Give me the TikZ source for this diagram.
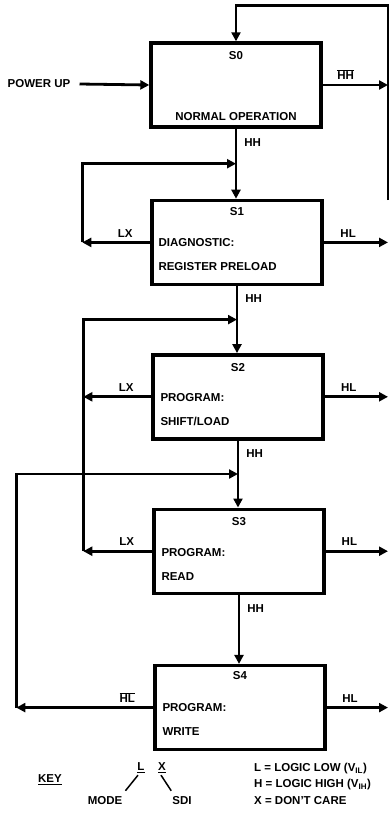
\documentclass[tikz,border=0pt]{standalone}
\usepackage{fontspec}
\setmainfont{Liberation Sans}
\usetikzlibrary{positioning,arrows.meta,calc}
\tikzset{
  state/.style={draw, line width=3.4pt, minimum width=170pt, minimum height=84pt, inner sep=0pt},
  conn/.style={line width=2.8pt, -{Triangle[length=9pt,width=9pt]}},
  keyline/.style={line width=1.5pt},
  txt/.style={font=\bfseries\fontsize{11.5}{13}\selectfont, inner sep=1pt},
}
\begin{document}
\begin{tikzpicture}[x=1pt,y=-1pt, every node/.style={txt}]
  \useasboundingbox (0,0) rectangle (389,828);
  \node[state] (s0) at (236,85) {};
  \node[state, below=70pt of s0, xshift=1pt] (s1) {};
  \node[state, below=67pt of s1, xshift=1pt] (s2) {};
  \node[state, below=67pt of s2, xshift=1pt] (s3) {};
  \node[state, below=69pt of s3, xshift=1pt] (s4) {};
  \node (s0n) at ([yshift=-14pt]s0.north) {S0};
  \node (s0a) at ([yshift=12pt]s0.south) {NORMAL OPERATION};
  \node (s1n) at ([yshift=-13pt]s1.north) {S1};
  \node[anchor=west] (s1a) at ([xshift=7pt]s1.west) {DIAGNOSTIC:};
  \node[anchor=west] (s1b) at ([shift={(7pt,-24pt)}]s1.west) {REGISTER PRELOAD};
  \node (s2n) at ([yshift=-14pt]s2.north) {S2};
  \node[anchor=west] (s2a) at ([shift={(8pt,-1pt)}]s2.west) {PROGRAM:};
  \node[anchor=west] (s2b) at ([shift={(8pt,-25pt)}]s2.west) {SHIFT/LOAD};
  \node (s3n) at ([yshift=-14pt]s3.north) {S3};
  \node[anchor=west] (s3a) at ([shift={(8pt,-1pt)}]s3.west) {PROGRAM:};
  \node[anchor=west] (s3b) at ([shift={(8pt,-25pt)}]s3.west) {READ};
  \node (s4n) at ([yshift=-12pt]s4.north) {S4};
  \node[anchor=west] (s4a) at ([xshift=8pt]s4.west) {PROGRAM:};
  \node[anchor=west] (s4b) at ([yshift=-24pt, xshift=8pt]s4.west) {WRITE};
  \node (pu) at (39,84) {POWER UP};
  \coordinate (rx) at (388,0);
  \coordinate (rb) at (388,200);
  \coordinate (tp) at ([yshift=36pt]s0.north);
  \coordinate (j1) at ($(s0.south)!0.5!(s0.south |- s1.north)$);
  \coordinate (j2) at ($(s1.south)!0.5!(s1.south |- s2.north)$);
  \coordinate (j3) at ($(s2.south)!0.5!(s2.south |- s3.north)$);
  \coordinate (l1) at ([xshift=-68pt]s1.west);
  \coordinate (l3) at ([xshift=-69pt]s3.west);
  \coordinate (l4) at ([xshift=-137pt]s4.west);
  \draw[conn] ([xshift=8pt]pu.east) -- (s0.west);
  \draw[conn] (rb) |- (tp) -- (s0.north);
  \draw[conn] (s0.east) -- node[above=3pt, pos=0.35] (hhbar) {$\overline{\mbox{HH}}$} (s0.east -| rx);
  \draw[conn] (s0.south) -- node[right=6pt, pos=0.2] (hh0) {HH} (s0.south |- s1.north);
  \draw[conn] (s1.south) -- node[right=6pt, pos=0.18] (hh1) {HH} (s1.south |- s2.north);
  \draw[conn] (s2.south) -- node[right=6pt, pos=0.2] (hh2) {HH} (s2.south |- s3.north);
  \draw[conn] (s3.south) -- node[right=6pt, pos=0.2] (hh3) {HH} (s3.south |- s4.north);
  \draw[conn] (s1.west) -- node[above=3pt, pos=0.37] (lx1) {LX} (l1);
  \draw[conn] (l1) |- (j1);
  \draw[conn] (s2.west) -- node[above=3pt, pos=0.37] (lx2) {LX} (s2.west -| l3);
  \draw[conn] (s3.west) -- node[above=3pt, pos=0.37] (lx3) {LX} (l3);
  \draw[conn] (l3) |- (j2);
  \draw[conn] (s4.west) -- node[above=3pt, pos=0.19] (hlbar) {$\overline{\mbox{HL}}$} (l4);
  \draw[conn] (l4) |- (j3);
  \draw[conn] (s1.east) -- node[above=3pt, pos=0.38] (hl1) {HL} (s1.east -| rx);
  \draw[conn] (s2.east) -- node[above=3pt, pos=0.38] (hl2) {HL} (s2.east -| rx);
  \draw[conn] (s3.east) -- node[above=3pt, pos=0.38] (hl3) {HL} (s3.east -| rx);
  \draw[conn] (s4.east) -- node[above=3pt, pos=0.38] (hl4) {HL} (s4.east -| rx);
  \node (key) at (50,780) {\underline{KEY}};
  \node (kl) at (141,768) {\underline{L}};
  \node (kx) at (162,768) {\underline{X}};
  \node (mode) at (105,801) {MODE};
  \node (sdi) at (182,801) {SDI};
  \draw[keyline] ([shift={(-3pt,-1pt)}]kl.south) -- ([shift={(2pt,5pt)}]mode.north east);
  \draw[keyline] ([shift={(-1pt,-1pt)}]kx.south) -- ([shift={(0pt,5pt)}]sdi.north west);
  \node[anchor=west] (k1) at (253,769) {L = LOGIC LOW (V\textsubscript{IL})};
  \node[anchor=west] (k2) at (253,785) {H = LOGIC HIGH (V\textsubscript{IH})};
  \node[anchor=west] (k3) at (253,801) {X = DON'T CARE};
\end{tikzpicture}
\end{document}
